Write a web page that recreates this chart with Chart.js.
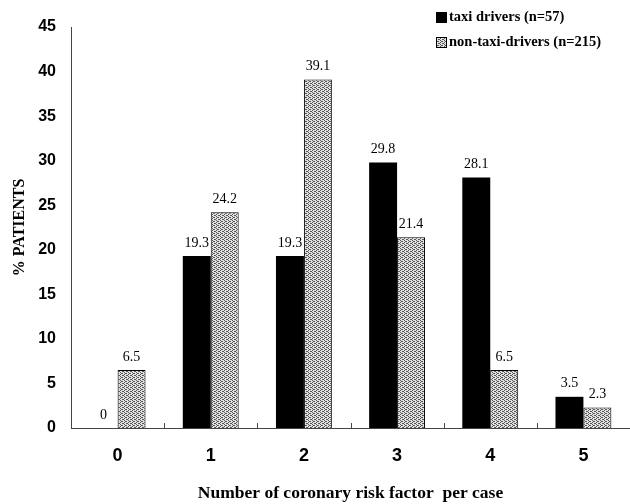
<!DOCTYPE html>
<html>
<head>
<meta charset="utf-8">
<script src="https://cdn.jsdelivr.net/npm/chart.js@4.4.1/dist/chart.umd.min.js"></script>
<style>
  html, body { margin: 0; padding: 0; background: #fff; }
  #wrap { width: 630px; height: 504px; }
</style>
</head>
<body>
<div id="wrap"><canvas id="riskChart" width="630" height="504"></canvas></div>
<script>
const riskFactors = ['0', '1', '2', '3', '4', '5'];
const taxiDrivers = [0, 19.3, 19.3, 29.8, 28.1, 3.5];
const nonTaxiDrivers = [6.5, 24.2, 39.1, 21.4, 6.5, 2.3];
const seriesLabels = ['taxi drivers (n=57)', 'non-taxi-drivers (n=215)'];

// stipple fill for the non-taxi bars
function makeStipple() {
  const c = document.createElement('canvas');
  c.width = 4; c.height = 4;
  const g = c.getContext('2d');
  g.fillStyle = '#e2e2e2';
  g.fillRect(0, 0, 4, 4);
  g.fillStyle = '#555';
  [[0,0],[2,1],[0,2],[2,3],[1,1],[3,3]].forEach(p => g.fillRect(p[0], p[1], 1, 1));
  return g.createPattern(c, 'repeat');
}

const ctx = document.getElementById('riskChart').getContext('2d');
const stipple = makeStipple();

const valueLabels = {
  id: 'valueLabels',
  afterDatasetsDraw(chart) {
    const c = chart.ctx;
    c.save();
    c.font = '14px "Liberation Serif", "Times New Roman", serif';
    c.fillStyle = '#000';
    c.textAlign = 'center';
    c.textBaseline = 'bottom';
    chart.data.datasets.forEach((ds, i) => {
      chart.getDatasetMeta(i).data.forEach((bar, j) => {
        c.fillText(String(ds.data[j]), bar.x, bar.y - 6);
      });
    });
    c.restore();
  }
};

const axisTicks = {
  id: 'axisTicks',
  afterDraw(chart) {
    const c = chart.ctx;
    const xs = chart.scales.x;
    const bottom = chart.chartArea.bottom;
    c.save();
    c.strokeStyle = '#444';
    c.lineWidth = 1;
    for (let i = 0; i <= riskFactors.length; i++) {
      const x = Math.round(xs.getPixelForValue(i - 0.5)) + 0.5;
      c.beginPath();
      c.moveTo(x, bottom);
      c.lineTo(x, bottom - 5);
      c.stroke();
    }
    c.restore();
  }
};

const customLegend = {
  id: 'customLegend',
  afterDraw(chart) {
    const c = chart.ctx;
    c.save();
    c.font = 'bold 14.5px "Liberation Serif", "Times New Roman", serif';
    c.textBaseline = 'middle';
    c.textAlign = 'left';
    const rows = [17, 42];
    chart.data.datasets.forEach((ds, i) => {
      const y = rows[i];
      c.fillStyle = ds.backgroundColor;
      c.fillRect(436, y - 5, 11, 11);
      c.strokeStyle = '#000';
      c.lineWidth = 1;
      c.strokeRect(436.5, y - 4.5, 10, 10);
      c.fillStyle = '#000';
      c.fillText(ds.label, 449, y);
    });
    c.restore();
  }
};

new Chart(ctx, {
  type: 'bar',
  data: {
    labels: riskFactors,
    datasets: [{
      label: seriesLabels[0],
      data: taxiDrivers,
      backgroundColor: '#000',
      borderColor: '#000',
      borderWidth: 0,
      categoryPercentage: 0.6,
      barPercentage: 1.0
    }, {
      label: seriesLabels[1],
      data: nonTaxiDrivers,
      backgroundColor: stipple,
      borderColor: '#000',
      borderWidth: 1,
      categoryPercentage: 0.6,
      barPercentage: 1.0
    }]
  },
  options: {
    responsive: false,
    animation: false,
    layout: { padding: { top: 27, right: 0, left: 0, bottom: 0 } },
    plugins: {
      legend: { display: false },
      tooltip: { enabled: false }
    },
    scales: {
      x: {
        grid: { display: false },
        border: { display: true, color: '#444', width: 1 },
        ticks: {
          color: '#000',
          padding: 9,
          font: { family: '"Liberation Sans", Arial, sans-serif', size: 18, weight: 'bold' }
        },
        title: {
          display: true,
          text: 'Number of coronary risk factor  per case',
          color: '#000',
          padding: { top: 12, bottom: 0 },
          font: { family: '"Liberation Serif", "Times New Roman", serif', size: 17.5, weight: 'bold' }
        },
        afterFit(scale) { scale.height = 76; }
      },
      y: {
        min: 0,
        max: 45,
        grid: { display: false },
        border: { display: true, color: '#444', width: 1 },
        ticks: {
          stepSize: 5,
          color: '#000',
          padding: 7,
          font: { family: '"Liberation Sans", Arial, sans-serif', size: 16, weight: 'bold' }
        },
        title: {
          display: true,
          text: '% PATIENTS',
          color: '#000',
          padding: { top: 10, bottom: 0 },
          font: { family: '"Liberation Serif", "Times New Roman", serif', size: 16, weight: 'bold' }
        },
        afterFit(scale) { scale.width = 71; }
      }
    }
  },
  plugins: [valueLabels, axisTicks, customLegend]
});
</script>
</body>
</html>
